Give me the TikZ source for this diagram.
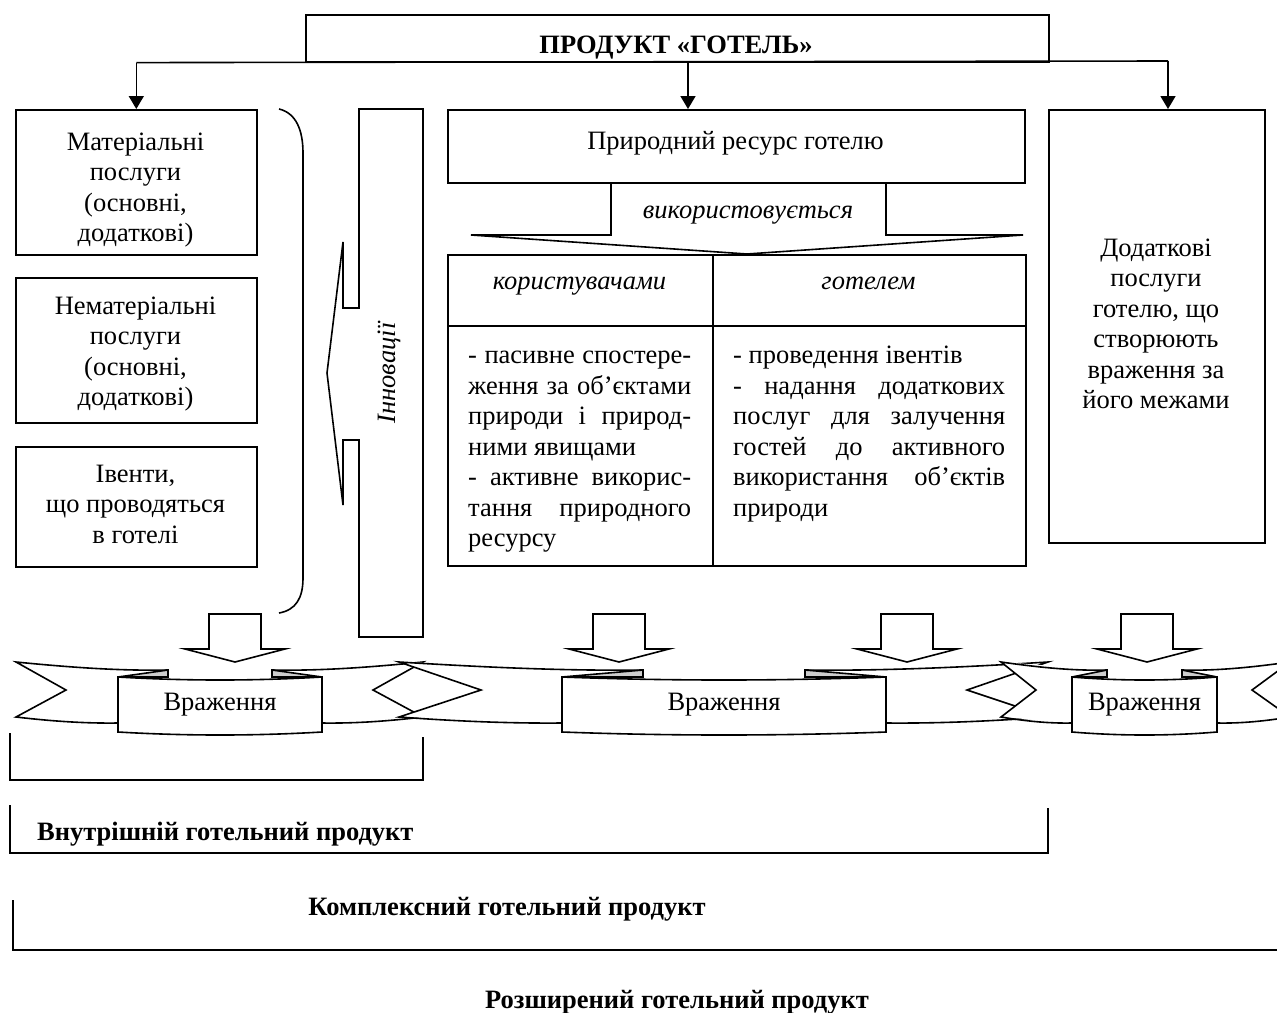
\documentclass[tikz,border=0pt]{standalone}
\usepackage{fontspec}
\setmainfont{Liberation Serif}
\usetikzlibrary{arrows.meta}
\definecolor{foldgray}{RGB}{205,205,205}
\tikzset{
  base/.style={font=\fontsize{26.5}{30.5}\selectfont, inner sep=0pt},
  it/.style={font=\fontsize{26.5}{30.5}\selectfont\itshape, inner sep=0pt},
  bold/.style={font=\fontsize{26.5}{30.5}\selectfont\bfseries, inner sep=0pt},
  ctext/.style={base, anchor=north, align=center},
  ln/.style={line width=1.6pt, line join=miter},
  box/.style={ln, draw, fill=white, anchor=north west, inner sep=0pt},
  arr/.style={ln, -{Triangle[length=13pt,width=15pt]}},
  blk/.style={ln, fill=white},
}
% ribbon: #1 L, #2 left notch, #3 R, #4 right notch, #5 box left, #6 box right, #7 fold width, #8 name
\newcommand{\ribbon}[8]{%
  \fill[white] (#1,662) -- ({#5+#7},670) -- ({#6-#7},670) -- (#3,662) -- (#4,690) -- (#3,717) -- (#6,723) -- (#5,723) -- (#1,717) -- (#2,690) -- cycle;
  \draw[ln] ({#5+#7},677) -- ({#5+#7},670) .. controls ({#1+2*(#5+#7-#1)/3},671) and ({#1+(#5+#7-#1)/3},667) .. (#1,662) -- (#2,690) -- (#1,717) .. controls ({#1+(#5-#1)/3},721) and ({#1+2*(#5-#1)/3},723.5) .. (#5,723);
  \draw[ln] ({#6-#7},677) -- ({#6-#7},670) .. controls ({#3-2*(#3-#6+#7)/3},671) and ({#3-(#3-#6+#7)/3},667) .. (#3,662) -- (#4,690) -- (#3,717) .. controls ({#3-(#3-#6)/3},721) and ({#3-2*(#3-#6)/3},723.5) .. (#6,723);
  \filldraw[ln, fill=foldgray] (#5,677) -- ({#5+#7},670) -- ({#5+#7},677) -- cycle;
  \filldraw[ln, fill=foldgray] (#6,677) -- ({#6-#7},670) -- ({#6-#7},677) -- cycle;
  \filldraw[ln, fill=white] (#5,677) .. controls ({#5+(#6-#5)/3},681) and ({#5+2*(#6-#5)/3},681) .. (#6,677) -- (#6,732) .. controls ({#5+2*(#6-#5)/3},736) and ({#5+(#6-#5)/3},736) .. (#5,732) -- cycle;
  \node[base] (#8) at ({(#5+#6)/2},705) {Враження};
}
\newcommand{\downblk}[1]{%
  \filldraw[blk] ({#1-26},614) -- ({#1+26},614) -- ({#1+26},649) -- ({#1+50},649) -- (#1,662) -- ({#1-50},649) -- ({#1-26},649) -- cycle;
}
\begin{document}
\begin{tikzpicture}[x=1pt,y=-1pt]
\useasboundingbox (0,0) rectangle (1277,1012);
\fill[white] (0,0) rectangle (1277,1012);
\begin{scope}
\clip (0,0) rectangle (1277,1012);

% title
\node[box, minimum width=743pt, minimum height=47pt] (title) at (305,14) {};
\node[bold, anchor=base] (titletxt) at (676,53) {ПРОДУКТ «ГОТЕЛЬ»};

% left boxes
\node[box, minimum width=241pt, minimum height=145pt] (mat) at (15,109) {};
\node[ctext] (mattxt) at (135.5,128.6) {\strut Матеріальні\\послуги\\(основні,\\додаткові)};
\node[box, minimum width=241pt, minimum height=145pt] (nemat) at (15,277) {};
\node[ctext] (nematxt) at (135.5,292.6) {\strut Нематеріальні\\послуги\\(основні,\\додаткові)};
\node[box, minimum width=241pt, minimum height=120pt] (ivent) at (15,446) {};
\node[ctext] (iventtxt) at (135.5,460.6) {\strut Івенти,\\що проводяться\\в готелі};

% right box
\node[box, minimum width=216pt, minimum height=433pt] (dod) at (1048,109) {};
\node[ctext] (dodtxt) at (1156,234.6) {\strut Додаткові\\послуги\\готелю, що\\створюють\\враження за\\його межами};

% resource box
\node[box, minimum width=577pt, minimum height=73pt] (res) at (447,109) {};
\node[base, anchor=base] (restxt) at (735.5,149) {Природний ресурс готелю};
\coordinate (nl) at (611,235);
\coordinate (nr) at (886,235);
\draw[ln] (nl |- res.south) -- (nl) -- (471,235) -- (747,254) -- (1023,235) -- (nr) -- (nr |- res.south);
\node[it, anchor=base] (vyk) at (748,218) {використовується};

% table
\node[box, minimum width=265pt, minimum height=71pt] (hu) at (447,254) {};
\node[box, minimum width=313pt, minimum height=71pt] (hg) at (712,254) {};
\node[box, minimum width=265pt, minimum height=240pt] (bu) at (447,325) {};
\node[box, minimum width=313pt, minimum height=240pt] (bg) at (712,325) {};
\node[it, anchor=base] (hutxt) at (579.5,289) {користувачами};
\node[it, anchor=base] (hgtxt) at (868.5,289) {готелем};
\node[base, anchor=north west, align=left] (butxt) at (468,342) {\strut\makebox[223pt][s]{- пасивне спостере-}\\\makebox[223pt][s]{ження за об’єктами}\\\makebox[223pt][s]{природи і природ-}\\ними явищами\\\makebox[223pt][s]{- активне викорис-}\\\makebox[223pt][s]{тання природного}\\ресурсу};
\node[base, anchor=north west, align=left] (bgtxt) at (733,342) {\strut - проведення івентів\\\makebox[272pt][s]{- надання додаткових}\\\makebox[272pt][s]{послуг для залучення}\\\makebox[272pt][s]{гостей до активного}\\\makebox[272pt][s]{використання об’єктів}\\природи};

% connectors from title
\coordinate (barL) at (mat.north |- title.south);
\coordinate (barM) at (688,61);
\coordinate (barR) at (1168,61);
\draw[ln] (barL) -- (barR);
\draw[arr] (barL) -- (mat.north);
\draw[arr] (barM) -- (barM |- res.north);
\draw[arr] (barR) -- (barR |- dod.north);

% brace
\draw[ln] (279,109) .. controls (296,113) and (303,130) .. (303,153) -- (303,578) .. controls (303,598) and (296,610) .. (279,613);

% innovations callout
\filldraw[ln, fill=white] (359,109) -- (359,308) -- (343,308) -- (343,242) -- (327,373) -- (343,505) -- (343,440) -- (359,440) -- (359,637) -- (423,637) -- (423,109) -- cycle;
\node[it, rotate=90] (inn) at (389,373) {Інновації};

% ribbons
\ribbon{16}{66}{423}{373}{118}{322}{50}{vr1}
\ribbon{399}{481}{1048}{967}{562}{886}{81}{vr2}
\ribbon{1001}{1036}{1290}{1252}{1072}{1217}{35}{vr3}

% block arrows
\downblk{235}
\downblk{619}
\downblk{907}
\downblk{1147}

% brackets
\draw[ln] (10,733) -- (10,780) -- (423,780) -- (423,737);
\draw[ln] (10,805) -- (10,853) -- (1048,853) -- (1048,808);
\draw[ln] (13,900) -- (13,950) -- (1290,950);
\node[bold, anchor=west] (vnutr) at (37,834) {Внутрішній готельний продукт};
\node[bold] (kompl) at (507,909) {Комплексний готельний продукт};
\node[bold] (rozsh) at (677,1002) {Розширений готельний продукт};
\end{scope}
\end{tikzpicture}
\end{document}
